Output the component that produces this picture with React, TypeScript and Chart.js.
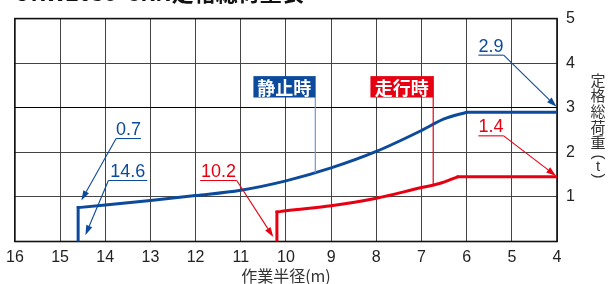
import React, { useEffect, useRef } from 'react';
import { Chart, registerables } from 'chart.js';

Chart.register(...registerables);

// ---- data ----
const xMin = 4;
const xMax = 16;
const yMin = 0;
const yMax = 5;
// 静止時 (static): vertical rise, curve, flat
const staticRiseX = [14.6, 14.6];
const staticRiseY = [0, 0.76];
const staticCurveX = [14.6, 14, 13, 12, 11, 10, 9, 8, 7, 6.5, 6];
const staticCurveY = [0.76, 0.82, 0.92, 1.03, 1.15, 1.36, 1.65, 2.02, 2.49, 2.75, 2.9];
const staticFlatX = [6, 4];
const staticFlatY = [2.9, 2.9];
// 走行時 (travelling)
const travelRiseX = [10.2, 10.2];
const travelRiseY = [0, 0.66];
const travelCurveX = [10.2, 10, 9, 8, 7, 6.6, 6.2];
const travelCurveY = [0.66, 0.69, 0.8, 0.97, 1.21, 1.3, 1.45];
const travelFlatX = [6.2, 4];
const travelFlatY = [1.45, 1.45];

const seriesNames = ['静止時', '走行時'];
const calloutTexts = ['0.7', '14.6', '10.2', '2.9', '1.4'];
const chartTitle = 'URW2035-CRN定格総荷重表';
const xTitle = '作業半径(m)';
const yTitleChars = ['定', '格', '総', '荷', '重'];
const yTitleUnit = 't';

const BLUE = '#0c4a9c';
const RED = '#e60012';
const LIGHT_BLUE = '#6a9ad6';

// callout geometry in data units
const callouts = [
  { text: calloutTexts[0], x1: 13.76, x2: 13.21, y: 2.31, from: 'left', tx: 14.53, ty: 0.92, color: BLUE },
  { text: calloutTexts[1], x1: 13.93, x2: 13.07, y: 1.37, from: 'left', tx: 14.44, ty: 0.14, color: BLUE },
  { text: calloutTexts[2], x1: 11.9, x2: 11.09, y: 1.37, from: 'right', tx: 10.28, ty: 0.1, color: RED },
  { text: calloutTexts[3], x1: 5.74, x2: 5.18, y: 4.18, from: 'right', tx: 4.01, ty: 3.02, color: BLUE },
  { text: calloutTexts[4], x1: 5.74, x2: 5.18, y: 2.37, from: 'right', tx: 4.02, ty: 1.47, color: RED },
];

const boxes = [
  { text: seriesNames[0], x1: 10.72, x2: 9.35, y1: 3.71, y2: 3.23, leadTo: 1.54, fill: BLUE, lead: LIGHT_BLUE },
  { text: seriesNames[1], x1: 8.13, x2: 6.74, y1: 3.71, y2: 3.23, leadTo: 1.25, fill: RED, lead: RED },
];

const annotatePlugin = {
  id: 'annotate',
  beforeDatasetsDraw(chart: any) {
    const { ctx, chartArea } = chart;
    ctx.save();
    ctx.strokeStyle = '#111';
    ctx.lineWidth = 1.6;
    ctx.strokeRect(chartArea.left, chartArea.top, chartArea.right - chartArea.left, chartArea.bottom - chartArea.top);
    ctx.restore();
  },
  afterDatasetsDraw(chart: any) {
    const { ctx } = chart;
    const xs = chart.scales.x;
    const ys = chart.scales.y;
    const px = (v: number) => xs.getPixelForValue(v);
    const py = (v: number) => ys.getPixelForValue(v);
    ctx.save();

    boxes.forEach((b) => {
      const l = px(b.x1), r = px(b.x2), t = py(b.y1), bt = py(b.y2);
      ctx.strokeStyle = b.lead;
      ctx.lineWidth = 1.2;
      ctx.beginPath();
      ctx.moveTo(r, t);
      ctx.lineTo(r, py(b.leadTo));
      ctx.stroke();
      ctx.fillStyle = b.fill;
      ctx.fillRect(l, t, r - l, bt - t);
      ctx.fillStyle = '#fff';
      ctx.font = 'bold 18px "Noto Sans CJK JP"';
      ctx.textAlign = 'center';
      ctx.textBaseline = 'middle';
      ctx.fillText(b.text, (l + r) / 2, (t + bt) / 2 + 1);
    });

    callouts.forEach((c) => {
      const l = px(c.x1), r = px(c.x2), y = py(c.y);
      const tx = px(c.tx), ty = py(c.ty);
      ctx.strokeStyle = c.color;
      ctx.fillStyle = c.color;
      ctx.lineWidth = 1.1;
      const sx = c.from === 'left' ? l : r;
      ctx.beginPath();
      ctx.moveTo(r, y);
      ctx.lineTo(l, y);
      ctx.stroke();
      const ang = Math.atan2(ty - y, tx - sx);
      const len = 10, half = 3.2;
      const bx = tx - len * Math.cos(ang), by = ty - len * Math.sin(ang);
      ctx.beginPath();
      ctx.moveTo(sx, y);
      ctx.lineTo(bx, by);
      ctx.stroke();
      ctx.beginPath();
      ctx.moveTo(tx, ty);
      ctx.lineTo(bx + half * Math.sin(ang), by - half * Math.cos(ang));
      ctx.lineTo(bx - half * Math.sin(ang), by + half * Math.cos(ang));
      ctx.closePath();
      ctx.fill();
      ctx.font = '18px "Liberation Sans", Arial, sans-serif';
      ctx.textAlign = 'center';
      ctx.textBaseline = 'alphabetic';
      ctx.fillText(c.text, (l + r) / 2, y - 3.5);
    });

    ctx.restore();
  },
  afterDraw(chart: any) {
    const { ctx, chartArea } = chart;
    ctx.save();
    ctx.fillStyle = '#111';
    ctx.font = 'bold 22px "Noto Sans CJK JP"';
    ctx.textAlign = 'left';
    ctx.textBaseline = 'alphabetic';
    ctx.fillText(chartTitle, 14, 1);

    const cx = chartArea.right + 41;
    ctx.fillStyle = '#333';
    ctx.font = '15px "Noto Sans CJK JP"';
    ctx.textAlign = 'center';
    ctx.textBaseline = 'middle';
    let y = 80;
    yTitleChars.forEach((ch) => {
      ctx.fillText(ch, cx, y);
      y += 15.6;
    });
    const drawRot = (ch: string, yy: number) => {
      ctx.save();
      ctx.translate(cx, yy);
      ctx.rotate(Math.PI / 2);
      ctx.font = '15px "Liberation Sans", Arial, sans-serif';
      ctx.fillText(ch, 0, 0);
      ctx.restore();
    };
    drawRot('(', 157);
    ctx.font = '15px "Liberation Sans", Arial, sans-serif';
    ctx.fillText(yTitleUnit, cx, 167);
    drawRot(')', 176);
    ctx.restore();
  },
};

const pts = (xs: number[], ys: number[]) => xs.map((x, i) => ({ x, y: ys[i] }));

const seg = (label: string, data: any[], color: string, smooth: boolean, cap: string) => ({
  label,
  data,
  borderColor: color,
  borderWidth: 3,
  pointRadius: 0,
  borderJoinStyle: 'round',
  borderCapStyle: cap,
  cubicInterpolationMode: smooth ? 'monotone' : 'default',
  tension: smooth ? 0.4 : 0,
  fill: false,
});

export default function App() {
  const ref = useRef<HTMLCanvasElement | null>(null);
  useEffect(() => {
    if (!ref.current) return;
    const chart = new Chart(ref.current, {
      type: 'line',
      data: {
        datasets: [
          seg(seriesNames[0], pts(staticRiseX, staticRiseY), BLUE, false, 'square'),
          seg(seriesNames[0], pts(staticCurveX, staticCurveY), BLUE, true, 'round'),
          seg(seriesNames[0], pts(staticFlatX, staticFlatY), BLUE, false, 'round'),
          seg(seriesNames[1], pts(travelRiseX, travelRiseY), RED, false, 'square'),
          seg(seriesNames[1], pts(travelCurveX, travelCurveY), RED, true, 'round'),
          seg(seriesNames[1], pts(travelFlatX, travelFlatY), RED, false, 'round'),
        ],
      },
      options: {
        responsive: false,
        animation: false,
        devicePixelRatio: 1,
        layout: { padding: { left: 13.5, top: 15, right: 0, bottom: 0 } },
        plugins: { legend: { display: false }, tooltip: { enabled: false }, title: { display: false } },
        scales: {
          x: {
            type: 'linear',
            reverse: true,
            min: xMin,
            max: xMax,
            afterFit: (s: any) => { s.height = 42.5; },
            ticks: {
              stepSize: 1,
              padding: 6,
              color: '#222',
              font: { family: '"Liberation Sans", Arial, sans-serif', size: 16 },
              maxRotation: 0,
              autoSkip: false,
            },
            grid: { color: '#444', lineWidth: 1, drawTicks: false },
            border: { display: false },
            title: {
              display: true,
              text: xTitle,
              color: '#333',
              font: { family: '"Noto Sans CJK JP"', size: 16, lineHeight: 1 },
              padding: { top: 0, bottom: 0 },
            },
          },
          y: {
            type: 'linear',
            position: 'right',
            min: yMin,
            max: yMax,
            afterFit: (s: any) => { s.width = 51; },
            ticks: {
              stepSize: 1,
              padding: 9,
              color: '#222',
              font: { family: '"Liberation Sans", Arial, sans-serif', size: 16 },
              callback: (v: any) => (v === 0 ? '' : String(v)),
            },
            grid: {
              color: (c: any) => (c.tick && c.tick.value === 3 ? '#000' : '#444'),
              lineWidth: 1,
              drawTicks: false,
            },
            border: { display: false },
          },
        },
      },
      plugins: [annotatePlugin],
    } as any);
    return () => chart.destroy();
  }, []);
  return (
    <div style={{ position: 'fixed', left: 0, top: 0, width: 608, height: 284, background: '#fff' }}>
      <canvas ref={ref} width={608} height={284} style={{ width: 608, height: 284, display: 'block' }} />
    </div>
  );
}
